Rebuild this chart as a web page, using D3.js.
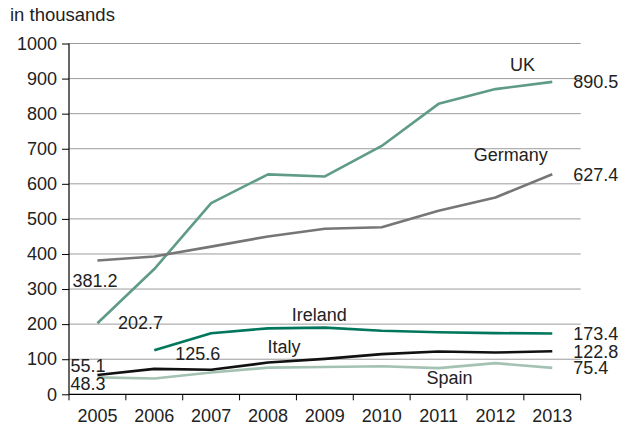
<!DOCTYPE html>
<html>
<head>
<meta charset="utf-8">
<script src="https://cdn.jsdelivr.net/npm/d3@7"></script>
<style>
  html, body { margin: 0; padding: 0; background: #fff; }
  svg { display: block; font-family: "Liberation Sans", Arial, Helvetica, sans-serif; }
</style>
</head>
<body>
<svg id="chart" width="621" height="425"></svg>
<script>
// ---- data ----
const years = [2005, 2006, 2007, 2008, 2009, 2010, 2011, 2012, 2013];
const yTicks = [0, 100, 200, 300, 400, 500, 600, 700, 800, 900, 1000];
const ukValues      = [202.7, 357, 545, 627, 621, 708, 828, 870, 890.5];
const germanyValues = [381.2, 393, 421, 450, 472, 476, 523, 561, 627.4];
const irelandValues = [null, 125.6, 174, 188, 190, 181, 177, 174.5, 173.4];
const italyValues   = [55.1, 72.5, 70, 90.5, 101, 114.5, 122, 119, 122.8];
const spainValues   = [48.3, 45, 62, 76, 78, 80, 74.6, 88.8, 75.4];
const seriesNames = ["UK", "Germany", "Ireland", "Italy", "Spain"];
const unitLabel = "in thousands";

// ---- styles / layout ----
const colors = { UK: "#5f9b86", Germany: "#767676", Ireland: "#00775c", Italy: "#111111", Spain: "#a4c2b3" };
const series = [
  { name: "UK", values: ukValues },
  { name: "Germany", values: germanyValues },
  { name: "Ireland", values: irelandValues },
  { name: "Italy", values: italyValues },
  { name: "Spain", values: spainValues }
];
const mLeft = 69, mRight = 580.7, mTop = 43.5, mBottom = 394.3;
const fontSize = 18, textColor = "#222";

const svg = d3.select("#chart");
const x = d3.scaleBand().domain(years).range([mLeft, mRight]).padding(0);
const xc = d => x(d) + x.bandwidth() / 2;
const y = d3.scaleLinear().domain([0, 1000]).range([mBottom, mTop]);

// gridlines
svg.append("g").selectAll("line").data(yTicks.filter(t => t > 0)).join("line")
  .attr("x1", mLeft).attr("x2", mRight)
  .attr("y1", d => y(d)).attr("y2", d => y(d))
  .attr("stroke", "#9c9c9c").attr("stroke-width", 1);

// y axis
const yAxis = svg.append("g").attr("transform", `translate(${mLeft},0)`)
  .call(d3.axisLeft(y).tickValues(yTicks).tickSize(7).tickPadding(5).tickFormat(d3.format("d")));
yAxis.attr("font-family", null).attr("font-size", null);
yAxis.select(".domain").attr("stroke", "#000").attr("stroke-width", 1.2).attr("d", `M0,${mBottom}V${mTop}`);
yAxis.selectAll(".tick line").attr("stroke", "#000");
yAxis.selectAll(".tick text").attr("font-size", fontSize).attr("fill", textColor);

// x axis
const xAxisG = svg.append("g");
xAxisG.append("line").attr("x1", mLeft).attr("x2", mRight).attr("y1", mBottom).attr("y2", mBottom)
  .attr("stroke", "#000").attr("stroke-width", 1.2);
const boundaries = years.map(d => x(d)).concat([mRight]);
xAxisG.selectAll("line.tk").data(boundaries).join("line").attr("class", "tk")
  .attr("x1", d => d).attr("x2", d => d).attr("y1", mBottom).attr("y2", mBottom + 6)
  .attr("stroke", "#000");
xAxisG.selectAll("text").data(years).join("text")
  .attr("x", d => xc(d)).attr("y", mBottom + 27.4)
  .attr("text-anchor", "middle").attr("font-size", fontSize).attr("fill", textColor)
  .text(d => d);

// unit label
svg.append("text").attr("x", 10).attr("y", 20.7).attr("font-size", fontSize + 0.5).attr("fill", textColor).text(unitLabel);

// lines
const line = d3.line().defined(d => d.v != null).x(d => xc(d.year)).y(d => y(d.v));
svg.append("g").selectAll("path").data(series).join("path")
  .attr("fill", "none")
  .attr("stroke", d => colors[d.name])
  .attr("stroke-width", 2.6)
  .attr("stroke-linejoin", "round")
  .attr("d", d => line(years.map((yr, i) => ({ year: yr, v: d.values[i] }))));

// value labels (end)
const endIdx = years.length - 1;
const labelG = svg.append("g").attr("font-size", fontSize).attr("fill", textColor);
series.forEach(s => {
  labelG.append("text")
    .attr("x", xc(years[endIdx]) + 21)
    .attr("y", y(s.values[endIdx]) + 6.5)
    .text(s.values[endIdx]);
});
// value labels (start)
const startLabels = [
  { s: "Germany", i: 0, dx: -25, dy: 26.7 },
  { s: "UK", i: 0, dx: 20.5, dy: 6 },
  { s: "Ireland", i: 1, dx: 21, dy: 10 },
  { s: "Italy", i: 0, dx: -27, dy: -2.7 },
  { s: "Spain", i: 0, dx: -27, dy: 12.6 }
];
startLabels.forEach(l => {
  const s = series.find(d => d.name === l.s);
  labelG.append("text")
    .attr("x", xc(years[l.i]) + l.dx)
    .attr("y", y(s.values[l.i]) + l.dy)
    .text(s.values[l.i]);
});
// series names
const nameLabels = [
  { s: "UK", year: 2012, v: 922, dx: 14.6 },
  { s: "Germany", year: 2012, v: 666, dx: -21.7 },
  { s: "Ireland", year: 2009, v: 210, dx: -33 },
  { s: "Italy", year: 2008, v: 117, dx: -0.6 },
  { s: "Spain", year: 2011, v: 28.5, dx: -12 }
];
nameLabels.forEach(l => {
  labelG.append("text")
    .attr("x", xc(l.year) + l.dx)
    .attr("y", y(l.v))
    .text(seriesNames[seriesNames.indexOf(l.s)]);
});
</script>
</body>
</html>
